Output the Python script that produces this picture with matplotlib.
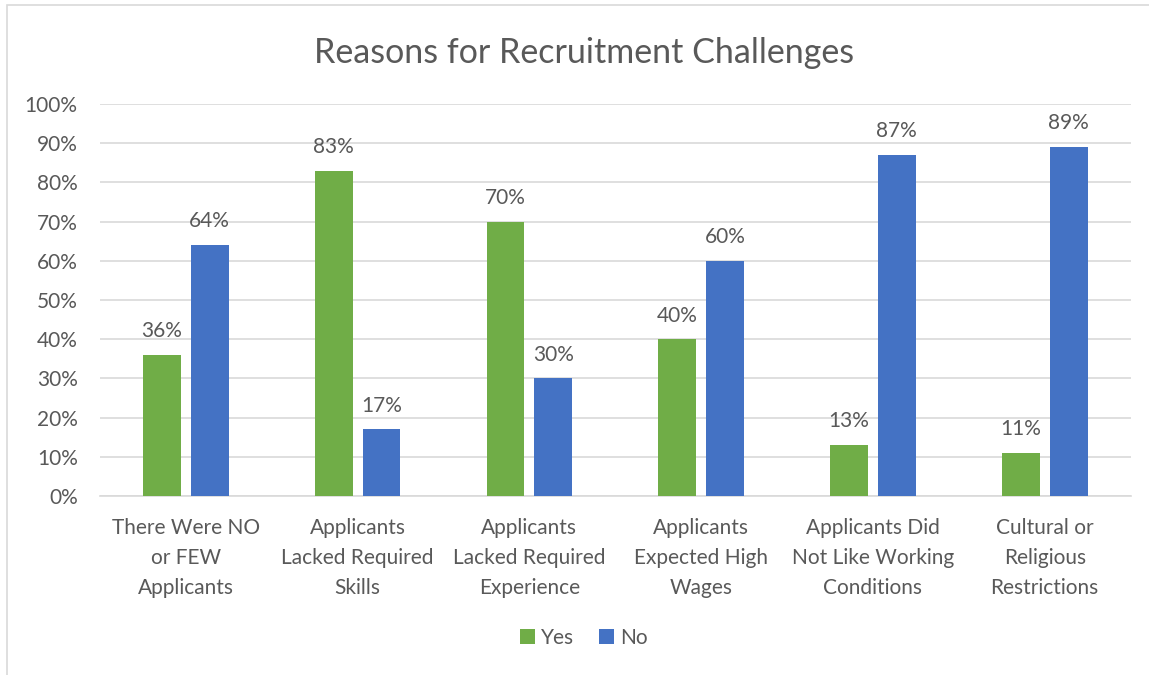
import matplotlib.pyplot as plt
import numpy as np
from matplotlib.patches import Rectangle

categories = [
    "There Were NO\nor FEW\nApplicants",
    "Applicants\nLacked Required\nSkills",
    "Applicants\nLacked Required\nExperience",
    "Applicants\nExpected High\nWages",
    "Applicants Did\nNot Like Working\nConditions",
    "Cultural or\nReligious\nRestrictions",
]
yes_vals = [36, 83, 70, 40, 13, 11]
no_vals = [64, 17, 30, 60, 87, 89]

green = "#70ad47"
blue = "#4472c4"
text_col = "#595959"

plt.rcParams["font.family"] = ["Lato", "DejaVu Sans"]

fig = plt.figure(figsize=(11.49, 6.75), dpi=100)
ax = fig.add_axes([0.087, 0.265, 0.897, 0.581])

# chart outline
fig.patches.append(Rectangle((7 / 1149, -0.1), 1.2, 1 - 5 / 675 + 0.1,
                             transform=fig.transFigure, fill=False,
                             edgecolor="#d9d9d9", linewidth=1.2))

x = np.arange(len(categories))
w = 0.22
gap = 0.058
b1 = ax.bar(x - (w + gap) / 2, yes_vals, w, color=green, label="Yes", zorder=3)
b2 = ax.bar(x + (w + gap) / 2, no_vals, w, color=blue, label="No", zorder=3)

for bars, vals in ((b1, yes_vals), (b2, no_vals)):
    for rect, v in zip(bars, vals):
        ax.text(rect.get_x() + rect.get_width() / 2, v + 3.5, f"{v}%",
                ha="center", va="bottom", fontsize=15, color=text_col)

ax.set_xlim(-0.5, len(categories) - 0.5)
ax.set_ylim(0, 100)
ax.set_yticks(range(0, 101, 10))
ax.set_yticklabels([f"{t}%" for t in range(0, 101, 10)])
ax.set_xticks(x)
ax.set_xticklabels(categories, linespacing=1.62)
ax.tick_params(axis="both", length=0, colors=text_col, labelsize=15)
ax.tick_params(axis="x", pad=16)
ax.tick_params(axis="y", pad=16)
ax.grid(axis="y", color="#d9d9d9", linewidth=1.2, zorder=0)
for s in ("top", "right", "left"):
    ax.spines[s].set_visible(False)
ax.spines["bottom"].set_color("#d9d9d9")
ax.spines["bottom"].set_linewidth(1.2)

fig.text(0.508, 0.922, "Reasons for Recruitment Challenges", ha="center",
         va="center", fontsize=24.5, color=text_col)

fig.legend(loc="center", bbox_to_anchor=(0.508, 0.055), ncol=2, frameon=False,
           fontsize=15, labelcolor=text_col, handlelength=0.7, handleheight=0.7,
           handletextpad=0.3, columnspacing=1.2)

fig.savefig("out.png", dpi=100)
